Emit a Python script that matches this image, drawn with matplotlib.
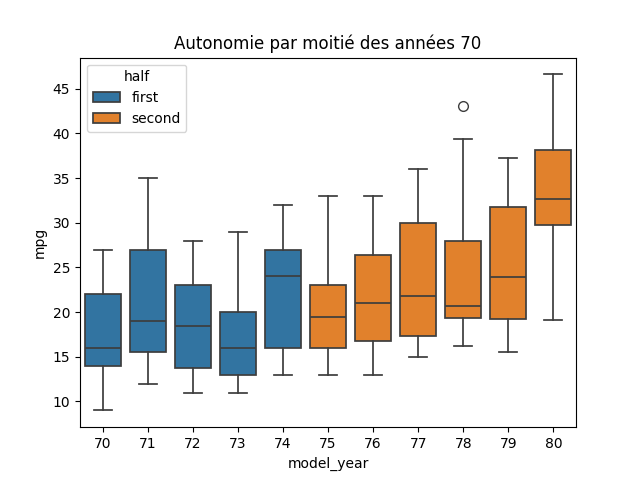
import matplotlib.pyplot as plt
from matplotlib.patches import Patch

years = [70, 71, 72, 73, 74, 75, 76, 77, 78, 79, 80]
halves = ['first'] * 5 + ['second'] * 6
whislo = [9, 12, 11, 11, 13, 13, 13, 15, 16.2, 15.5, 19.1]
q1 = [14, 15.5, 13.75, 13, 16, 16, 16.75, 17.375, 19.35, 19.2, 29.8]
med = [16, 19, 18.5, 16, 24, 19.5, 21, 21.75, 20.7, 23.9, 32.7]
q3 = [22, 27, 23, 20, 27, 23, 26.375, 30, 28, 31.8, 38.1]
whishi = [27, 35, 28, 29, 32, 33, 33, 36, 39.4, 37.3, 46.6]
fliers = [[], [], [], [], [], [], [], [], [43.1], [], []]

colors = {'first': '#3274a1', 'second': '#e1812c'}
line_c = '#3d3d3d'

stats = []
for i in range(len(years)):
    stats.append({'whislo': whislo[i], 'q1': q1[i], 'med': med[i], 'q3': q3[i],
                  'whishi': whishi[i], 'fliers': fliers[i]})

fig, ax = plt.subplots(figsize=(6.4, 4.8), dpi=100)
bp = ax.bxp(stats, positions=range(len(years)), widths=0.8, capwidths=0.4,
            patch_artist=True,
            boxprops=dict(edgecolor=line_c, linewidth=1.25),
            medianprops=dict(color=line_c, linewidth=1.25),
            whiskerprops=dict(color=line_c, linewidth=1.25),
            capprops=dict(color=line_c, linewidth=1.25),
            flierprops=dict(marker='o', markerfacecolor='none',
                            markeredgecolor=line_c, markersize=7, linewidth=0))
for box, h in zip(bp['boxes'], halves):
    box.set_facecolor(colors[h])

ax.set_xticks(range(len(years)))
ax.set_xticklabels([str(y) for y in years])
ax.set_xlim(-0.5, len(years) - 0.5)
ax.set_xlabel('model_year')
ax.set_ylabel('mpg')
ax.set_title('Autonomie par moitié des années 70')

handles = [Patch(facecolor=colors[k], edgecolor=line_c, linewidth=1.25, label=k)
           for k in ['first', 'second']]
ax.legend(handles=handles, title='half', loc='upper left')

fig.savefig('out.png')
